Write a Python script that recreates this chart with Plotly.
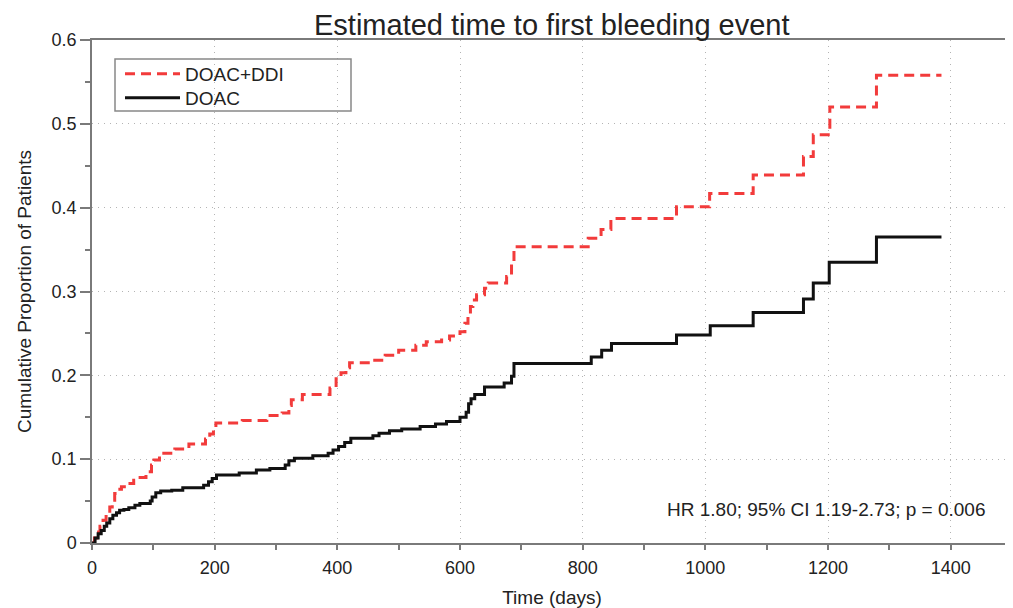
import plotly.graph_objects as go

# ---- data ----
doac_days = [0, 5, 10, 15, 20, 24, 29, 34, 40, 45, 52, 60, 70, 78, 95, 98, 104, 112, 130, 148,
             182, 190, 196, 203, 240, 268, 290, 315, 321, 330, 360, 385, 393, 402, 412, 422,
             458, 468, 485, 505, 535, 560, 578, 600, 610, 614, 618, 624, 640, 672, 684, 688,
             814, 831, 847, 953, 1008, 1078, 1160, 1176, 1202, 1279, 1385]
doac_prop = [0, 0.006, 0.011, 0.015, 0.020, 0.024, 0.029, 0.033, 0.036, 0.039, 0.040, 0.042,
             0.045, 0.047, 0.050, 0.055, 0.060, 0.062, 0.063, 0.066, 0.069, 0.073, 0.077, 0.081,
             0.0836, 0.087, 0.0888, 0.093, 0.098, 0.101, 0.104, 0.107, 0.111, 0.115, 0.120, 0.125,
             0.128, 0.131, 0.134, 0.136, 0.139, 0.142, 0.145, 0.150, 0.156, 0.166, 0.172, 0.177,
             0.186, 0.191, 0.199, 0.214, 0.222, 0.230, 0.238, 0.248, 0.259, 0.275, 0.291, 0.310,
             0.335, 0.365, 0.365]

ddi_days = [0, 4, 8, 13, 18, 23, 29, 33, 37, 42, 48, 58, 68, 75, 88, 97, 101, 110, 135, 158,
            185, 192, 198, 202, 245, 285, 310, 321, 325, 343, 388, 398, 406, 414, 420, 458,
            478, 500, 528, 545, 570, 583, 600, 608, 613, 617, 621, 627, 640, 646, 676, 684,
            688, 809, 830, 846, 953, 1007, 1078, 1160, 1176, 1203, 1279, 1385]
ddi_prop = [0, 0.006, 0.013, 0.020, 0.027, 0.035, 0.043, 0.051, 0.059, 0.064, 0.067, 0.071,
            0.075, 0.078, 0.085, 0.093, 0.099, 0.107, 0.112, 0.118, 0.124, 0.130, 0.137, 0.143,
            0.146, 0.152, 0.155, 0.164, 0.171, 0.177, 0.185, 0.196, 0.203, 0.209, 0.215, 0.218,
            0.224, 0.230, 0.236, 0.240, 0.242, 0.247, 0.252, 0.262, 0.272, 0.282, 0.290, 0.296,
            0.304, 0.310, 0.318, 0.334, 0.3535, 0.3635, 0.374, 0.387, 0.401, 0.417, 0.439, 0.461,
            0.487, 0.520, 0.558, 0.558]

x_ticks = [0, 200, 400, 600, 800, 1000, 1200, 1400]
y_ticks = [0, 0.1, 0.2, 0.3, 0.4, 0.5, 0.6]
y_tick_labels = ["0", "0.1", "0.2", "0.3", "0.4", "0.5", "0.6"]

title_text = "Estimated time to first bleeding event"
x_title = "Time (days)"
y_title = "Cumulative Proportion of Patients"
stats_text = "HR 1.80; 95% CI 1.19-2.73; p = 0.006"

FONT = "Liberation Sans, Arial, sans-serif"
AXIS_COLOR = "#7a7a7a"
GRID_COLOR = "#b4b4b4"

# The page body has an 8px default margin, so the figure is sized 8px smaller
# and its margins shifted so the plot area lands where the reference has it.
W, H = 1005, 600
ML, MT, MR, MB = 84, 32, 1, 65
PW, PH = W - ML - MR, H - MT - MB  # 920 x 503


def px_x(sx):  # screen x -> paper x
    return (sx - 8 - ML) / PW


def px_y(sy):  # screen y -> paper y
    return 1 - (sy - 8 - MT) / PH


fig = go.Figure()
fig.add_trace(go.Scatter(x=ddi_days, y=ddi_prop, mode="lines", name="DOAC+DDI",
                         legend="legend",
                         line=dict(color="#f23b3b", width=3, dash="10px,6px", shape="hv")))
fig.add_trace(go.Scatter(x=doac_days, y=doac_prop, mode="lines", name="DOAC",
                         legend="legend2",
                         line=dict(color="#111111", width=3, shape="hv")))

legend_common = dict(xanchor="left", yanchor="top", bgcolor="rgba(0,0,0,0)", borderwidth=0,
                     font=dict(size=19), tracegroupgap=0, itemwidth=55)

fig.update_layout(
    width=W, height=H,
    margin=dict(l=ML, r=MR, t=MT, b=MB, autoexpand=False),
    paper_bgcolor="white", plot_bgcolor="white",
    font=dict(family=FONT, size=19, color="#222222"),
    showlegend=True,
    legend=dict(x=px_x(120), y=px_y(55), **legend_common),
    legend2=dict(x=px_x(120), y=px_y(79), **legend_common),
    xaxis=dict(range=[0, 1500], tickvals=x_ticks, ticks="outside", ticklen=5,
               ticklabelstandoff=3,
               tickcolor=AXIS_COLOR, tickwidth=1.5, automargin=False,
               showline=True, linecolor=AXIS_COLOR, linewidth=1.5, mirror=True,
               showgrid=True, gridcolor=GRID_COLOR, griddash="1px,5px", gridwidth=1.2,
               zeroline=False, tickfont=dict(size=18),
               minor=dict(dtick=100, ticks="outside", ticklen=5, tickcolor=AXIS_COLOR,
                          tickwidth=1.5, showgrid=False),
               title=dict(text=x_title, font=dict(size=19))),
    yaxis=dict(range=[0, 0.6], tickvals=y_ticks, ticktext=y_tick_labels, ticks="outside",
               ticklen=10, tickcolor=AXIS_COLOR, tickwidth=1.5, automargin=False,
               showline=True, linecolor=AXIS_COLOR, linewidth=1.5, mirror=True,
               showgrid=True, gridcolor=GRID_COLOR, griddash="1px,5px", gridwidth=1.2,
               zeroline=False, tickfont=dict(size=18),
               minor=dict(dtick=0.05, ticks="outside", ticklen=5, tickcolor=AXIS_COLOR,
                          tickwidth=1.5, showgrid=False),
               title=dict(text=y_title, font=dict(size=19))),
)

# chart title (placed as a paper annotation so its box stays inside the page)
fig.add_annotation(text=title_text, xref="paper", yref="paper",
                   x=0.5, y=px_y(8), xanchor="center", yanchor="top",
                   showarrow=False, borderpad=0,
                   font=dict(size=29, color="#222222"))

# legend frame
fig.add_shape(type="rect", xref="paper", yref="paper",
              x0=px_x(115), x1=px_x(351), y0=px_y(111), y1=px_y(59),
              line=dict(color="#888888", width=1.5), fillcolor="rgba(0,0,0,0)")

fig.add_annotation(text=stats_text, xref="paper", yref="paper",
                   x=px_x(987), y=px_y(509), xanchor="right", yanchor="middle",
                   showarrow=False, font=dict(size=19, color="#222222"))

fig.write_html("out.html")
